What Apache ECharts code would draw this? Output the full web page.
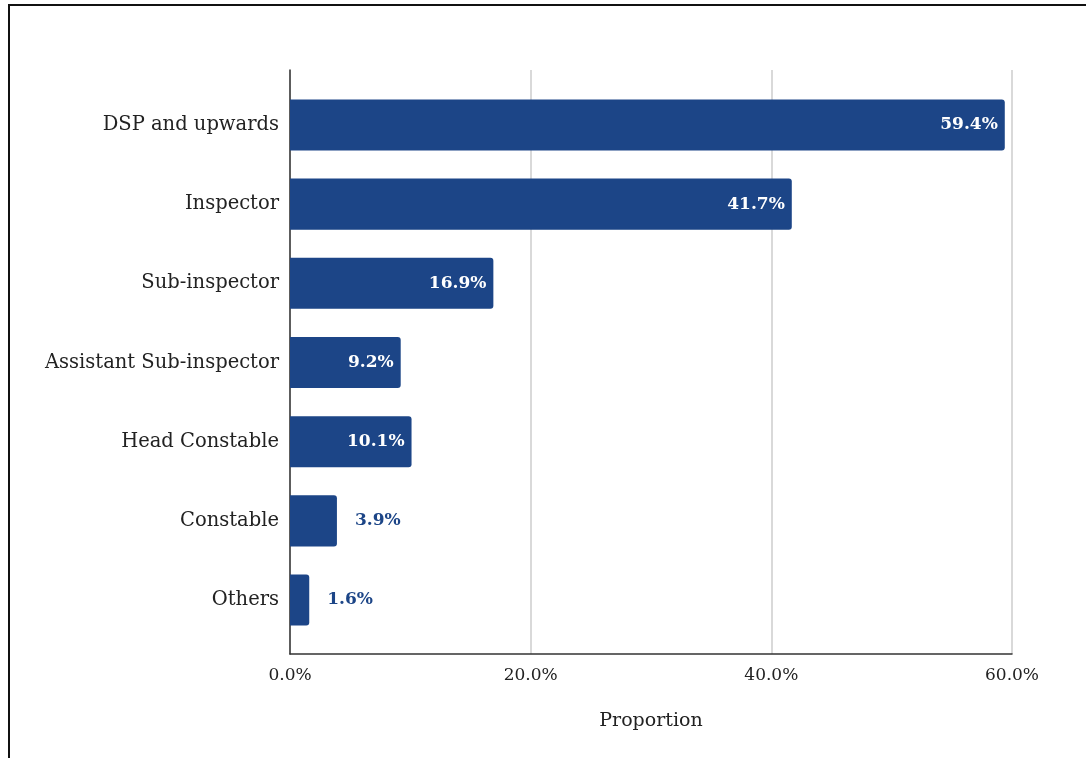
<!DOCTYPE html>
<html>
<head>
<meta charset="utf-8">
<style>
  html, body { margin: 0; padding: 0; background: #fff; }
  #chart { width: 1086px; height: 758px; }
</style>
<script src="https://cdn.jsdelivr.net/npm/echarts@6/dist/echarts.min.js"></script>
</head>
<body>
<div id="chart"></div>
<script>
// Rank categories, top to bottom
const categories = [
  'DSP and upwards',
  'Inspector',
  'Sub-inspector',
  'Assistant Sub-inspector',
  'Head Constable',
  'Constable',
  'Others'
];
// Proportion (%) for each rank
const proportions = [59.4, 41.7, 16.9, 9.2, 10.1, 3.9, 1.6];
// X axis ticks
const xTicks = [0, 20, 40, 60];

const FONT = 'DejaVu Serif';
const BAR = '#1c4587';
// values below this are labelled outside the bar
const OUTSIDE_BELOW = 5;

const chart = echarts.init(document.getElementById('chart'));

const barData = proportions.map(v => {
  if (v < OUTSIDE_BELOW) {
    return { value: v, label: { position: 'right', distance: 18, color: BAR } };
  }
  return v;
});

chart.setOption({
  animation: false,
  backgroundColor: '#fff',
  textStyle: { fontFamily: FONT },
  graphic: [{
    type: 'polyline',
    shape: { points: [[9, 800], [9, 5], [1100, 5]] },
    style: { stroke: '#111', lineWidth: 2, fill: null },
    silent: true
  }],
  grid: [
    // bars
    { left: 290, right: 74, top: 85.4, bottom: 118.4 },
    // axis frame, gridlines and ticks
    { left: 290, right: 74, top: 70, bottom: 104 }
  ],
  xAxis: [
    {
      gridIndex: 0, type: 'value', min: xTicks[0], max: xTicks[xTicks.length - 1],
      interval: 20, show: false
    },
    {
      gridIndex: 1, type: 'value', min: xTicks[0], max: xTicks[xTicks.length - 1],
      interval: 20,
      name: 'Proportion', nameLocation: 'middle', nameGap: 58,
      nameTextStyle: { fontFamily: FONT, fontSize: 19, color: '#222' },
      axisLine: { show: true, lineStyle: { color: '#333', width: 1.5 } },
      axisTick: { show: false },
      splitLine: { show: true, lineStyle: { color: '#cccccc', width: 1.5 } },
      axisLabel: {
        fontFamily: FONT, fontSize: 17, color: '#222', margin: 13,
        formatter: v => v.toFixed(1) + '%'
      }
    }
  ],
  yAxis: [
    {
      gridIndex: 0, type: 'category', data: categories, inverse: true,
      axisLine: { show: false },
      axisTick: { show: false },
      axisLabel: { fontFamily: FONT, fontSize: 19.5, color: '#222', margin: 11 }
    },
    {
      gridIndex: 1, type: 'value', min: 0, max: 1,
      axisLine: { show: true, lineStyle: { color: '#333', width: 1.5 } },
      axisTick: { show: false },
      axisLabel: { show: false },
      splitLine: { show: false }
    }
  ],
  series: [{
    type: 'bar',
    xAxisIndex: 0,
    yAxisIndex: 0,
    data: barData,
    barCategoryGap: '35.5%',
    itemStyle: { color: BAR, borderRadius: [0, 3, 3, 0] },
    label: {
      show: true,
      position: 'insideRight',
      distance: 7,
      color: '#fff',
      fontFamily: FONT,
      fontWeight: 'bold',
      fontSize: 17,
      formatter: p => p.value.toFixed(1) + '%'
    }
  }]
});
</script>
</body>
</html>
